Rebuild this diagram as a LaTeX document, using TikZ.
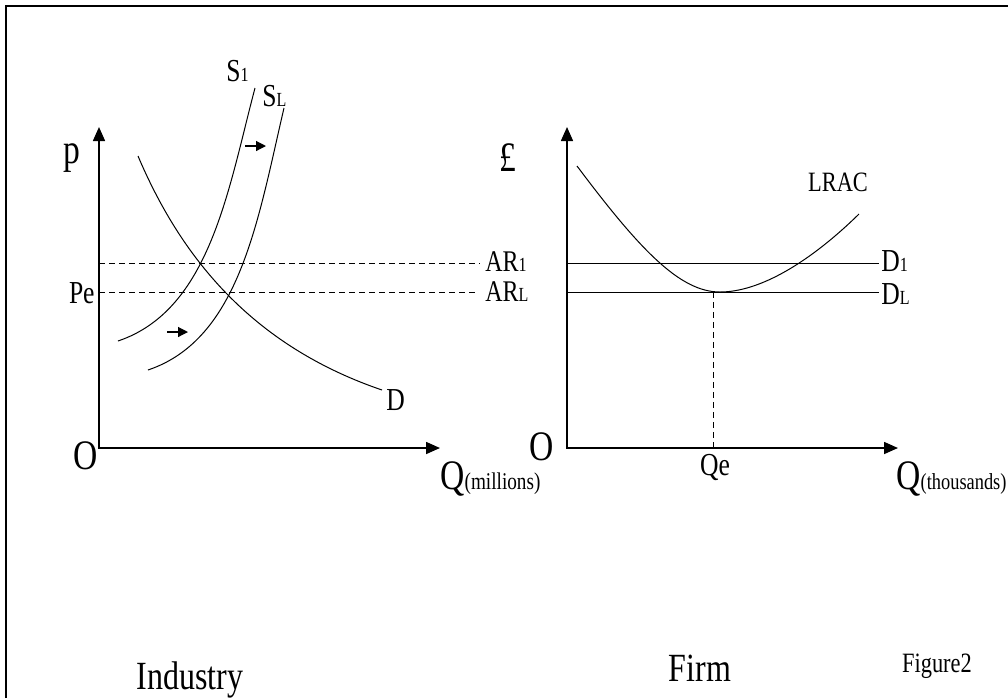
\documentclass[tikz,border=0pt]{standalone}
\usepackage{fontspec}
\setmainfont[FakeStretch=0.8]{Liberation Serif}
\usetikzlibrary{arrows.meta, positioning, calc}
\newcommand{\smallidx}[1]{{\fontsize{10}{10}\selectfont #1}}

\begin{document}
\begin{tikzpicture}[
  x=0.5pt, y=-0.5pt,
  every node/.style={inner sep=0pt, font=\fontsize{16}{16}\selectfont},
  big/.style={font=\fontsize{21}{21}\selectfont},
  mid/.style={font=\fontsize{14}{14}\selectfont},
  axis/.style={{Triangle[length=7pt, width=6pt]}-{Triangle[length=7pt, width=6pt]}, line width=0.8pt},
  curve/.style={line width=0.5pt},
  guide/.style={dash pattern=on 3pt off 2pt, line width=0.5pt},
  level/.style={line width=0.5pt},
  shiftarrow/.style={-{Triangle[length=5pt, width=5pt]}, line width=0.6pt}
]
  \useasboundingbox (0,0) rectangle (1008,698);
  \draw[line width=1.1pt] (6,698) -- (6,6) -- (1008,6);

  % Industry
  \coordinate (oI) at (99,448);
  \coordinate (yI) at (99,127);
  \coordinate (xI) at (440,448);
  \draw[axis] (yI) -- (oI) -- (xI);
  \node[big, anchor=east] (O1) at (98,456) {O};
  \node[big] (p) at (72,158) {p};
  \node[anchor=east] (Pe) at (95,293) {Pe};
  \node[anchor=base west, font=\fontsize{15}{15}\selectfont] (AR1) at (485,271) {AR\smallidx{1}};
  \node[anchor=base west, font=\fontsize{15}{15}\selectfont] (ARL) at (485,301) {AR\smallidx{L}};
  \coordinate (ar1) at (99,263);
  \coordinate (arl) at (99,292);
  \draw[guide, shorten >=2.5pt] (ar1) -- (AR1.west |- ar1);
  \draw[guide, shorten >=3.5pt] (arl) -- (ARL.west |- arl);

  \draw[curve] (118,341) .. controls (210,310) and (228,190) .. (255,88);
  \draw[curve] (148,370) .. controls (240,339) and (258,219) .. (284,108);
  \draw[curve] (138,156) .. controls (180,255) and (250,345) .. (382,390);
  \node[anchor=base west] (S1) at (226,81) {S\smallidx{1}};
  \node[anchor=base west] (SL) at (262,106) {S\smallidx{L}};
  \node[anchor=base west] (D) at (386,410) {D};

  \coordinate (up1) at (245,146);
  \coordinate (up2) at (266,146);
  \coordinate (lo1) at (167,332);
  \coordinate (lo2) at (188,332);
  \draw[shiftarrow] (up1) -- (up2);
  \draw[shiftarrow] (lo1) -- (lo2);

  \node[big, anchor=base west] (QI) at (440,489) {Q\fontsize{12}{12}\selectfont(millions)};
  \node[font=\fontsize{20}{20}\selectfont] (ind) at (190,680) {Industry};

  % Firm
  \coordinate (oF) at (567,448);
  \coordinate (yF) at (567,127);
  \coordinate (xF) at (898,448);
  \draw[axis] (yF) -- (oF) -- (xF);
  \node[big, anchor=east] (O2) at (554,447) {O};
  \node[big] (pound) at (508,158) {£};
  \node[anchor=base west] (D1) at (881,271) {D\smallidx{1}};
  \node[anchor=base west] (DL) at (881,304) {D\smallidx{L}};
  \coordinate (d1) at (567,263);
  \coordinate (dl) at (567,292);
  \draw[level, shorten >=1pt] (d1) -- (D1.west |- d1);
  \draw[level, shorten >=1pt] (dl) -- (DL.west |- dl);

  \draw[curve] (577,166) .. controls (640,250) and (680,292) .. (720,292) .. controls (760,292) and (810,262) .. (859,214);
  \node[mid] (LRAC) at (838,182) {LRAC};

  \coordinate (qe) at (713,292);
  \node (Qe) at (715,467) {Qe};
  \draw[guide] (qe) -- (qe |- oF);

  \node[big, anchor=base west] (QF) at (896,489) {Q\fontsize{11.5}{11.5}\selectfont(thousands)};
  \node[font=\fontsize{20}{20}\selectfont] (firm) at (700,668) {Firm};
  \node[mid] (fig) at (937,666) {Figure2};
\end{tikzpicture}
\end{document}
